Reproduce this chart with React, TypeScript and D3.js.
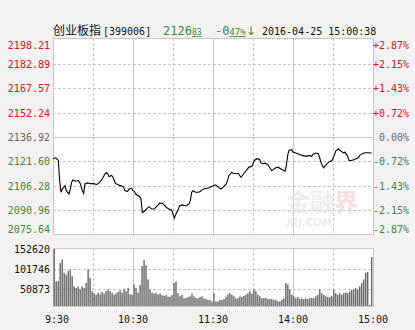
import React from "react";
import * as d3 from "d3";

// 创业板指 分时 2016-04-25
const PREV_CLOSE = 2136.92;

const priceTicks = [2198.21, 2182.89, 2167.57, 2152.24, 2136.92, 2121.6, 2106.28, 2090.96, 2075.64];
const pctTicks = ["+2.87%", "+2.15%", "+1.43%", "+0.72%", "0.00%", "-0.72%", "-1.43%", "-2.15%", "-2.87%"];
const volTicks = [152620, 101746, 50873];
const timeLabels = ["9:30", "10:30", "11:30", "14:00", "15:00"];
const timeLabelMinutes = [0, 60, 120, 180, 240];

const priceTimes = [
  "09:30", "09:32", "09:34", "09:35", "09:36", "09:37", "09:39", "09:40", "09:42", "09:43",
  "09:44", "09:45", "09:47", "09:49", "09:50", "09:51", "09:52", "09:53", "09:54", "09:56",
  "09:57", "09:59", "10:00", "10:01", "10:03", "10:05", "10:07", "10:09", "10:10", "10:11",
  "10:12", "10:14", "10:15", "10:16", "10:17", "10:19", "10:20", "10:21", "10:23", "10:24",
  "10:26", "10:27", "10:29", "10:30", "10:31", "10:32", "10:35", "10:36", "10:37", "10:39",
  "10:40", "10:42", "10:44", "10:46", "10:47", "10:49", "10:50", "10:52", "10:54", "10:55",
  "10:57", "10:59", "11:00", "11:01", "11:02", "11:04", "11:05", "11:07", "11:09", "11:10",
  "11:12", "11:13", "11:14", "11:15", "11:17", "11:19", "11:20", "11:22", "11:23", "11:25",
  "11:27", "11:29", "13:00", "13:02", "13:04", "13:06", "13:08", "13:10", "13:11", "13:12",
  "13:14", "13:15", "13:17", "13:19", "13:20", "13:21", "13:23", "13:25", "13:27", "13:29",
  "13:30", "13:31", "13:33", "13:35", "13:36", "13:38", "13:39", "13:41", "13:42", "13:44",
  "13:45", "13:47", "13:49", "13:50", "13:52", "13:54", "13:55", "13:56", "13:57", "13:59",
  "14:00", "14:02", "14:05", "14:07", "14:10", "14:12", "14:14", "14:15", "14:17", "14:19",
  "14:20", "14:21", "14:22", "14:23", "14:25", "14:26", "14:28", "14:29", "14:31", "14:32",
  "14:34", "14:35", "14:36", "14:38", "14:39", "14:41", "14:42", "14:44", "14:46", "14:49",
  "14:50", "14:52", "14:54", "14:56", "14:59",
];

const priceValues = [
  2123.2, 2123.8, 2122.1, 2109.4, 2102.0, 2104.1, 2106.2, 2103.0, 2100.9, 2104.1,
  2108.3, 2109.8, 2109.0, 2109.4, 2108.3, 2106.2, 2103.0, 2101.3, 2107.3, 2107.9,
  2107.7, 2107.3, 2107.7, 2107.3, 2106.9, 2108.3, 2110.5, 2113.7, 2114.5, 2113.7,
  2111.9, 2112.6, 2111.5, 2109.4, 2107.3, 2106.9, 2106.2, 2106.2, 2105.1, 2103.0,
  2102.6, 2104.1, 2104.5, 2103.0, 2102.6, 2100.9, 2099.2, 2097.8, 2089.2, 2090.3,
  2091.4, 2092.9, 2091.4, 2091.4, 2092.4, 2094.1, 2095.2, 2095.0, 2093.5, 2092.4,
  2091.4, 2090.8, 2088.2, 2085.7, 2087.8, 2091.4, 2093.5, 2094.0, 2093.5, 2093.5,
  2094.6, 2096.7, 2102.0, 2103.0, 2102.0, 2102.0, 2102.4, 2103.5, 2104.1, 2104.5,
  2104.8, 2105.6, 2106.2, 2106.7, 2105.1, 2104.1, 2105.6, 2107.3, 2109.8, 2112.6,
  2114.7, 2114.0, 2113.7, 2114.0, 2112.6, 2111.5, 2113.7, 2115.8, 2117.9, 2118.3,
  2120.0, 2122.1, 2123.2, 2122.7, 2120.4, 2120.0, 2120.4, 2119.6, 2118.3, 2115.8,
  2116.2, 2117.5, 2117.9, 2117.2, 2116.2, 2115.3, 2118.9, 2125.3, 2128.5, 2128.9,
  2127.4, 2126.8, 2125.9, 2125.3, 2124.7, 2125.3, 2124.7, 2125.9, 2126.8, 2126.4,
  2123.8, 2121.0, 2118.9, 2117.5, 2119.6, 2120.4, 2121.7, 2121.7, 2125.3, 2128.0,
  2129.5, 2128.5, 2128.0, 2126.8, 2127.4, 2124.7, 2122.1, 2122.1, 2122.7, 2123.8,
  2125.3, 2126.4, 2127.0, 2127.0, 2126.83,
];

// 成交量 (千)
const volumeK = [
  153, 69, 70, 116, 125, 91, 86, 95, 99, 82, 56, 52, 56, 48, 56, 52, 65, 99, 78, 44,
  38, 35, 40, 36, 42, 38, 45, 48, 44, 40, 35, 38, 42, 46, 40, 50, 44, 52, 36, 35,
  61, 52, 40, 60, 108, 123, 110, 74, 48, 40, 38, 40, 36, 38, 34, 32, 35, 30, 30, 34,
  65, 69, 39, 31, 35, 26, 27, 29, 31, 38, 31, 27, 26, 29, 31, 26, 24, 22, 22, 18,
  39, 18, 18, 22, 22, 24, 30, 36, 39, 35, 31, 26, 26, 31, 29, 32, 35, 39, 44, 38,
  48, 44, 35, 31, 26, 27, 27, 24, 24, 24, 22, 22, 18, 18, 22, 26, 65, 61, 48, 35,
  31, 26, 29, 24, 26, 24, 26, 24, 26, 27, 26, 31, 35, 48, 39, 35, 31, 29, 29, 32,
  48, 39, 35, 39, 35, 39, 41, 39, 44, 48, 48, 52, 48, 56, 65, 74, 91, 93, 9, 131,
];

const RED = "#dd1515";
const GREEN = "#3a8a3a";
const GRAY = "#666";
const GRID = "#c6c6c6";
const MONO = "'DejaVu Sans Mono', 'Liberation Mono', monospace";
const CJK = "'Noto Sans CJK SC', sans-serif";

function toMinute(t: string) {
  const [h, m] = t.split(":").map(Number);
  const mins = h * 60 + m;
  return mins <= 11 * 60 + 30 ? mins - (9 * 60 + 30) : mins - 13 * 60 + 120;
}

export default function App() {
  const width = 415;
  const height = 330;
  const left = 53;
  const right = 373;
  const pTop = 38;
  const pBottom = 234;
  const vTop = 248;
  const vBottom = 306;

  const x = d3.scaleLinear().domain([0, 240]).range([left, right]);
  const y = d3.scaleLinear().domain([2075.64, 2198.21]).range([pBottom, 40]);
  const yv = d3.scaleLinear().domain([0, 152620]).range([308.5, 248.5]);
  const band = d3
    .scaleBand<number>()
    .domain(volumeK.map((_, i) => i))
    .range([left + 0.5, right]);

  const pts = priceTimes.map((t, i) => [toMinute(t), priceValues[i]] as [number, number]);
  const line = d3
    .line<[number, number]>()
    .x((d) => x(d[0]))
    .y((d) => y(d[1]));

  const vGrid = [30, 60, 90, 120, 150, 180, 210];
  const tickColor = (v: number) =>
    v > PREV_CLOSE + 0.001 ? RED : v < PREV_CLOSE - 0.001 ? GREEN : GRAY;

  const labelY = (v: number) => Math.min(230, Math.max(46, y(v) + 1));

  return (
    <div style={{ position: "fixed", left: 0, top: 0 }}>
      <svg width={width} height={height} viewBox={`0 0 ${width} ${height}`} style={{ display: "block" }}>
        <rect x={0} y={0} width={width} height={height} fill="#f3f1f1" />

        {/* title */}
        <text y={35} fontSize={10} fontFamily={MONO} fill="#111">
          <tspan x={53} fontFamily={CJK} fontSize={12}>创业板指</tspan>
          <tspan x={103}>[399006]</tspan>
        </text>
        <text y={35} fontFamily={MONO} fill={GREEN}>
          <tspan x={163} fontSize={12}>2126</tspan>
          <tspan fontSize={8} textDecoration="underline">83</tspan>
        </text>
        <text y={35} fontFamily={MONO} fill={GREEN}>
          <tspan x={215} fontSize={12}>-0</tspan>
          <tspan fontSize={9} textDecoration="underline">47%</tspan>
          <tspan fontSize={12} fontFamily="'DejaVu Sans', sans-serif">↓</tspan>
        </text>
        <text x={262} y={35} fontSize={10} fontFamily={MONO} fill="#111">
          2016-04-25 15:00:38
        </text>

        {/* price panel */}
        <rect x={left + 0.5} y={pTop + 0.5} width={right - left} height={pBottom - pTop} fill="#fff" stroke={GRID} />
        {priceTicks.slice(1, -1).map((v) => (
          <line
            key={v}
            x1={left}
            x2={right}
            y1={Math.round(y(v)) + 0.5}
            y2={Math.round(y(v)) + 0.5}
            stroke={GRID}
            strokeDasharray={v === PREV_CLOSE ? undefined : "3,2"}
          />
        ))}
        {vGrid.map((m) => (
          <line
            key={m}
            x1={Math.round(x(m)) + 0.5}
            x2={Math.round(x(m)) + 0.5}
            y1={pTop}
            y2={pBottom}
            stroke={GRID}
            strokeDasharray={m % 60 === 0 ? undefined : "3,2"}
          />
        ))}

        {/* watermark */}
        <g opacity={0.55}>
          <text x={286} y={211} fontSize={24} fontWeight="bold" fontFamily={CJK} fill="#e7dcdc">
            金融<tspan fill="#f2c4c8">界</tspan>
          </text>
          <text x={287} y={226} fontSize={10} fontWeight="bold" fontStyle="italic" fontFamily="'DejaVu Sans', sans-serif" fill="#e2d8d8">
            JRJ.COM
          </text>
        </g>

        <path d={line(pts) ?? ""} fill="none" stroke="#000" strokeWidth={1.1} />

        {priceTicks.map((v) => (
          <text
            key={v}
            x={50}
            y={labelY(v)}
            textAnchor="end"
            dominantBaseline="middle"
            fontSize={10}
            fontFamily={MONO}
            fill={tickColor(v)}
          >
            {v.toFixed(2)}
          </text>
        ))}
        {priceTicks.map((v, i) => (
          <text
            key={v}
            x={right}
            y={labelY(v)}
            dominantBaseline="middle"
            fontSize={10}
            fontFamily={MONO}
            fill={tickColor(v)}
          >
            {pctTicks[i] === "0.00%" ? "\u00a0" + pctTicks[i] : pctTicks[i]}
          </text>
        ))}

        {/* volume panel */}
        <rect x={left + 0.5} y={vTop + 0.5} width={right - left} height={vBottom - vTop} fill="#fff" stroke={GRID} />
        {volTicks.slice(1).map((v) => (
          <line
            key={v}
            x1={left}
            x2={right}
            y1={Math.round(yv(v)) + 0.5}
            y2={Math.round(yv(v)) + 0.5}
            stroke={GRID}
            strokeDasharray="3,2"
          />
        ))}
        {vGrid.map((m) => (
          <line
            key={m}
            x1={Math.round(x(m)) + 0.5}
            x2={Math.round(x(m)) + 0.5}
            y1={vTop}
            y2={vBottom}
            stroke={GRID}
            strokeDasharray={m % 60 === 0 ? undefined : "3,2"}
          />
        ))}
        {volumeK.map((v, i) => {
          const top = Math.max(vTop + 1, yv(v * 1000));
          return (
            <rect
              key={i}
              x={band(i)}
              y={top}
              width={1.4}
              height={Math.max(0, vBottom - top)}
              fill="#666"
            />
          );
        })}
        {volTicks.map((v) => (
          <text
            key={v}
            x={50}
            y={yv(v) + 1}
            textAnchor="end"
            dominantBaseline="middle"
            fontSize={10}
            fontFamily={MONO}
            fill="#111"
          >
            {v}
          </text>
        ))}

        {timeLabels.map((t, i) => (
          <text
            key={t}
            x={Math.max(57, x(timeLabelMinutes[i]))}
            y={323}
            textAnchor="middle"
            fontSize={10}
            fontFamily={MONO}
            fill="#111"
          >
            {t}
          </text>
        ))}
      </svg>
    </div>
  );
}
